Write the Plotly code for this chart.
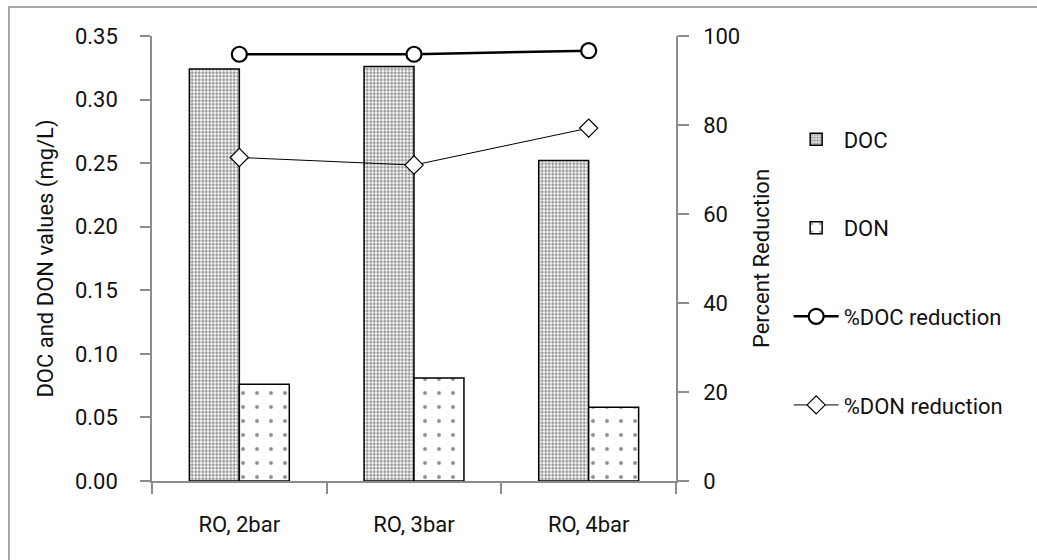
import plotly.graph_objects as go

# RO operating pressure runs
categories = ["RO, 2bar", "RO, 3bar", "RO, 4bar"]

# Concentrations in permeate (mg/L)
doc_values = [0.324, 0.326, 0.252]
don_values = [0.076, 0.081, 0.058]

# Removal efficiency (%)
doc_reduction = [95.9, 95.9, 96.7]
don_reduction = [72.7, 71.0, 79.3]

left_ticks = [0.00, 0.05, 0.10, 0.15, 0.20, 0.25, 0.30, 0.35]
right_ticks = [0, 20, 40, 60, 80, 100]

FONT = "Roboto"
AXIS_GREY = "#8c8c8c"

fig = go.Figure()

fig.add_trace(go.Bar(
    x=categories, y=doc_values, name="DOC", legendgroup="a",
    marker=dict(color="white", line=dict(color="black", width=1.5),
                pattern=dict(shape=".", size=3.5, solidity=0.55,
                             fgcolor="#2e2e2e", bgcolor="white")),
))
fig.add_trace(go.Bar(
    x=categories, y=don_values, name="DON", legendgroup="b",
    marker=dict(color="white", line=dict(color="black", width=1.5),
                pattern=dict(shape=".", size=14, solidity=0.06,
                             fgcolor="#222222", bgcolor="white")),
))
fig.add_trace(go.Scatter(
    x=categories, y=doc_reduction, name="%DOC reduction", legendgroup="c",
    yaxis="y2", mode="lines+markers",
    line=dict(color="black", width=2.5),
    marker=dict(symbol="circle", size=15, color="white",
                line=dict(color="black", width=2.2)),
))
fig.add_trace(go.Scatter(
    x=categories, y=don_reduction, name="%DON reduction", legendgroup="d",
    yaxis="y2", mode="lines+markers",
    line=dict(color="black", width=1),
    marker=dict(symbol="diamond", size=14, color="white",
                line=dict(color="black", width=1.2)),
))

fig.update_layout(
    width=1037, height=560,
    margin=dict(l=152, r=361, t=36, b=79),
    paper_bgcolor="white", plot_bgcolor="white",
    font=dict(family=FONT, size=22, color="#111111"),
    barmode="group", bargap=0.428, bargroupgap=0,
    xaxis=dict(
        showline=True, linecolor=AXIS_GREY, linewidth=1.5,
        ticks="outside", tickcolor=AXIS_GREY, ticklen=11, tickwidth=1.5,
        tickson="boundaries", showgrid=False, ticklabelstandoff=23,
    ),
    yaxis=dict(
        range=[0, 0.35], tickvals=left_ticks, tickformat=".2f",
        showline=True, linecolor=AXIS_GREY, linewidth=1.5,
        ticks="outside", tickcolor=AXIS_GREY, ticklen=10, tickwidth=1.5,
        showgrid=False, zeroline=False, ticklabelstandoff=18,
        title=dict(text="DOC and DON values (mg/L)", standoff=15,
                   font=dict(size=22)),
    ),
    yaxis2=dict(
        range=[0, 100], tickvals=right_ticks, overlaying="y", side="right",
        showline=True, linecolor=AXIS_GREY, linewidth=1.5,
        ticks="outside", tickcolor=AXIS_GREY, ticklen=11, tickwidth=1.5,
        showgrid=False, zeroline=False, ticklabelstandoff=10,
        title=dict(text="Percent Reduction", standoff=14,
                   font=dict(size=22)),
    ),
    legend=dict(
        x=1.215, y=0.815, xanchor="left", yanchor="top",
        tracegroupgap=57, itemwidth=45,
        font=dict(family=FONT, size=22),
        bgcolor="rgba(0,0,0,0)",
    ),
    shapes=[dict(
        type="rect", xref="paper", yref="paper",
        x0=-0.273, x1=1.75, y0=-0.25, y1=1.0652,
        line=dict(color=AXIS_GREY, width=1.5), fillcolor="rgba(0,0,0,0)",
        layer="below",
    )],
)

fig.write_html("out.html")
